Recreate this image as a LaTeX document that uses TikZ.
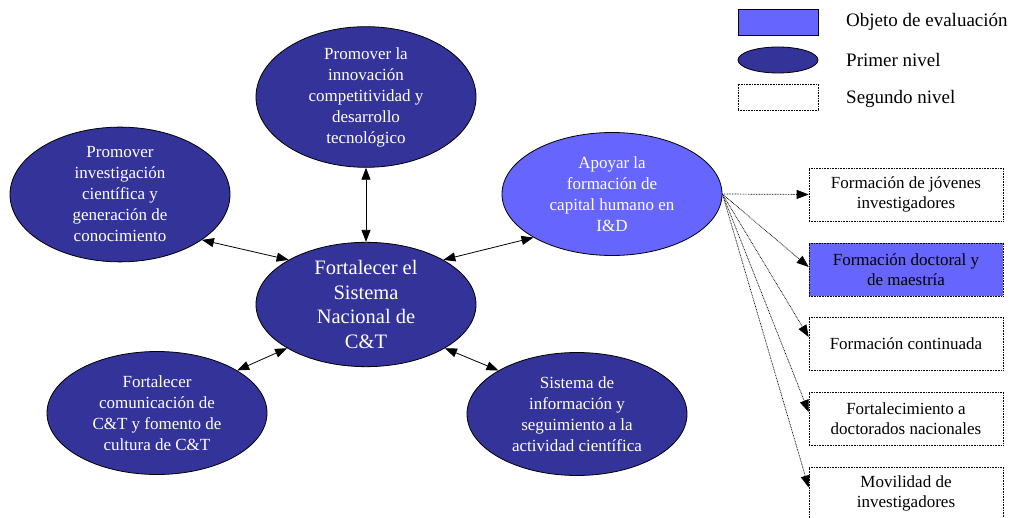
\documentclass[tikz,border=0pt]{standalone}
\usepackage{fontspec}
\setmainfont{Liberation Serif}
\usetikzlibrary{shapes.geometric,arrows.meta}
\definecolor{dblue}{HTML}{333399}
\definecolor{lblue}{HTML}{6666FF}
\tikzset{
  lvlone/.style={ellipse,draw=black,line width=0.8pt,fill=dblue,text=white,align=center,
    minimum width=220pt,minimum height=123pt,inner sep=0pt,font=\fontsize{17}{21}\selectfont},
  lvltwo/.style={rectangle,draw=black,line width=0.7pt,dash pattern=on 0.8pt off 0.8pt,
    align=center,minimum width=194pt,minimum height=53pt,inner sep=0pt,font=\fontsize{17}{20}\selectfont},
  evalbox/.style={lvltwo,fill=lblue},
  biarrow/.style={{Triangle[length=12pt,width=9pt]}-{Triangle[length=12pt,width=9pt]},line width=0.8pt},
  dotarrow/.style={-{Triangle[length=12pt,width=9pt]},line width=0.7pt,dash pattern=on 0.8pt off 0.8pt},
  legtext/.style={anchor=west,inner sep=0pt,font=\fontsize{19}{22}\selectfont}
}
\begin{document}
\begin{tikzpicture}[x=1pt,y=-1pt]
\useasboundingbox[fill=white] (0,0) rectangle (1023,518);
% level one
\node[lvlone,minimum height=122pt] (top) at (366,97) {Promover la\\innovación\\competitividad y\\desarrollo\\tecnológico};
\node[lvlone] (lu) at (120,194.5) {Promover\\investigación\\científica y\\generación de\\conocimiento};
\node[lvlone,fill=lblue] (ap) at (612,194) {Apoyar la\\formación de\\capital humano en\\I\&D};
\node[lvlone] (ll) at (157,413) {Fortalecer\\comunicación de\\C\&T y fomento de\\cultura de C\&T};
\node[lvlone] (rl) at (577,414) {Sistema de\\información y\\seguimiento a la\\actividad científica};
\node[lvlone,font=\fontsize{20.5}{24.5}\selectfont] (ctr) at (366,304.5) {Fortalecer el\\Sistema\\Nacional de\\C\&T};
% connectors
\draw[biarrow] (top.south) -- (ctr.north);
\draw[biarrow] (lu.-29) -- (ctr.150);
\draw[biarrow] (ap.209) -- (ctr.30);
\draw[biarrow] (ll.28) -- (ctr.209);
\draw[biarrow] (rl.151) -- (ctr.-29);
% level two
\node[lvltwo] (b1) at (906,194.5) {Formación de jóvenes\\investigadores};
\node[evalbox] (b2) at (906,269.5) {Formación doctoral y\\de maestría};
\node[lvltwo] (b3) at (906,343.5) {Formación continuada};
\node[lvltwo] (b4) at (906,418.5) {Fortalecimiento a\\doctorados nacionales};
\node[lvltwo] (b5) at (906,493.5) {Movilidad de\\investigadores};
\draw[dotarrow] (ap.east) -- (b1.west);
\draw[dotarrow] (ap.east) -- ([yshift=2.5pt]b2.west);
\draw[dotarrow] (ap.east) -- ([yshift=6.5pt]b3.west);
\draw[dotarrow] (ap.east) -- ([yshift=6.5pt]b4.west);
\draw[dotarrow] (ap.east) -- ([yshift=6pt]b5.west);
% legend
\node[rectangle,draw=black,line width=0.8pt,fill=lblue,minimum width=80pt,minimum height=26pt,inner sep=0pt] (lg1) at (778,22) {};
\node[ellipse,draw=black,line width=0.8pt,fill=dblue,minimum width=80pt,minimum height=26pt,inner sep=0pt] (lg2) at (778,60) {};
\node[lvltwo,minimum width=80pt,minimum height=26pt] (lg3) at (778,97) {};
\node[legtext] (lt1) at (846,22) {Objeto de evaluación};
\node[legtext] (lt2) at (846,60) {Primer nivel};
\node[legtext] (lt3) at (846,99) {Segundo nivel};
\end{tikzpicture}
\end{document}
